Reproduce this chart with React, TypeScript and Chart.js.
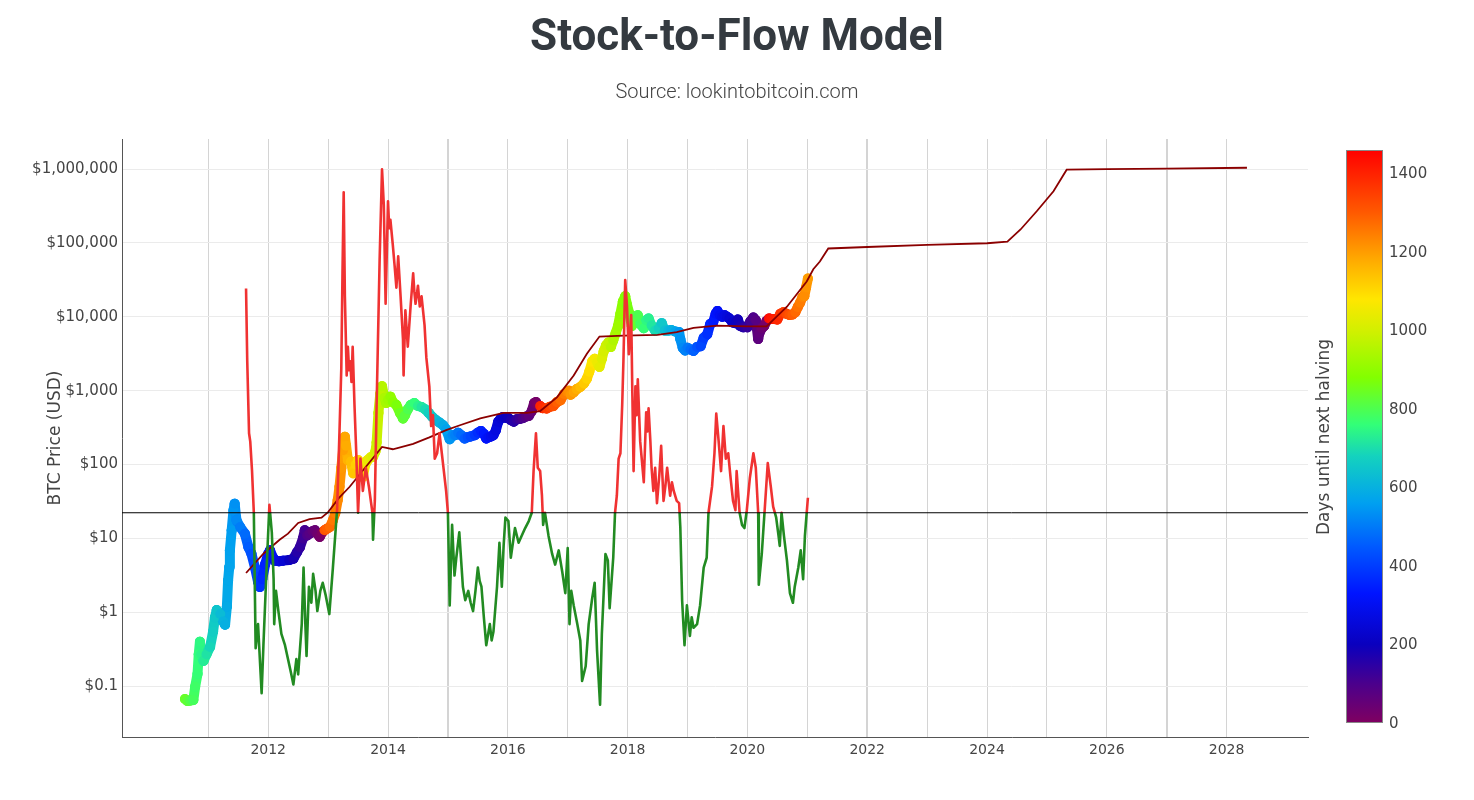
import { useEffect, useRef } from 'react';
import { Chart, registerables } from 'chart.js';

Chart.register(...registerables);

// ---------- DATA (decimal year, value) ----------
const BTC_PRICE: [number, number][] = [
  [2010.61, 0.067], [2010.65, 0.063], [2010.70, 0.064], [2010.75, 0.065], [2010.78, 0.098],
  [2010.82, 0.147], [2010.84, 0.27], [2010.86, 0.40], [2010.88, 0.27], [2010.92, 0.22],
  [2010.97, 0.27], [2011.03, 0.34], [2011.08, 0.55], [2011.11, 0.85], [2011.14, 1.07],
  [2011.20, 0.95], [2011.25, 0.75], [2011.28, 0.68], [2011.31, 1.2], [2011.33, 2.7],
  [2011.35, 4.1], [2011.36, 6.9], [2011.39, 12.9], [2011.42, 24], [2011.44, 29.5],
  [2011.47, 17.6], [2011.53, 14.3], [2011.61, 11.6], [2011.67, 7.6], [2011.72, 6.2],
  [2011.78, 4.0], [2011.83, 2.6], [2011.86, 2.2], [2011.90, 2.8], [2011.95, 4.5],
  [2012.00, 6.2], [2012.03, 6.9], [2012.08, 5.5], [2012.11, 5.0], [2012.18, 4.9],
  [2012.25, 5.0], [2012.35, 5.1], [2012.42, 5.3], [2012.48, 6.5], [2012.53, 7.6],
  [2012.58, 10], [2012.61, 12.9], [2012.65, 11], [2012.69, 11.6], [2012.74, 12.5],
  [2012.78, 12.9], [2012.82, 11.5], [2012.86, 10.5], [2012.90, 12], [2012.94, 12.9],
  [2012.98, 13.5], [2013.03, 14.3], [2013.08, 17.6], [2013.12, 22], [2013.16, 33],
  [2013.19, 50], [2013.22, 90], [2013.25, 156], [2013.28, 237], [2013.30, 180],
  [2013.33, 115], [2013.38, 110], [2013.42, 76], [2013.46, 100], [2013.50, 115],
  [2013.54, 90], [2013.58, 68], [2013.62, 100], [2013.66, 115], [2013.71, 125],
  [2013.75, 127], [2013.79, 150], [2013.81, 200], [2013.84, 500], [2013.87, 900],
  [2013.90, 1150], [2013.94, 800], [2013.97, 680], [2014.00, 750], [2014.04, 830],
  [2014.08, 700], [2014.14, 640], [2014.20, 500], [2014.25, 420], [2014.28, 460],
  [2014.33, 560], [2014.38, 640], [2014.44, 680], [2014.50, 620], [2014.56, 600],
  [2014.62, 560], [2014.68, 500], [2014.74, 440], [2014.80, 400], [2014.86, 370],
  [2014.92, 340], [2014.97, 300], [2015.03, 220], [2015.08, 250], [2015.12, 250],
  [2015.17, 270], [2015.22, 250], [2015.28, 225], [2015.33, 235], [2015.38, 240],
  [2015.45, 250], [2015.50, 270], [2015.55, 285], [2015.60, 260], [2015.64, 225],
  [2015.68, 235], [2015.72, 240], [2015.76, 250], [2015.80, 290], [2015.84, 380],
  [2015.88, 420], [2015.92, 440], [2015.96, 430], [2016.00, 430], [2016.05, 400],
  [2016.10, 380], [2016.15, 410], [2016.20, 415], [2016.25, 425], [2016.30, 445],
  [2016.35, 455], [2016.40, 530], [2016.44, 680], [2016.47, 700], [2016.50, 640],
  [2016.54, 620], [2016.58, 580], [2016.65, 575], [2016.70, 605], [2016.76, 620],
  [2016.82, 700], [2016.88, 740], [2016.94, 900], [2016.99, 970], [2017.02, 1000],
  [2017.05, 880], [2017.10, 950], [2017.15, 1050], [2017.21, 1120], [2017.27, 1250],
  [2017.32, 1450], [2017.36, 1800], [2017.41, 2500], [2017.45, 2700], [2017.49, 2400],
  [2017.53, 2100], [2017.57, 2700], [2017.60, 3400], [2017.64, 4100], [2017.68, 4500],
  [2017.72, 3900], [2017.76, 4800], [2017.80, 6000], [2017.84, 7500], [2017.88, 11000],
  [2017.92, 16000], [2017.96, 19000], [2017.99, 14500], [2018.03, 11000], [2018.07, 7500],
  [2018.12, 10000], [2018.17, 10500], [2018.21, 8000], [2018.27, 7000], [2018.31, 9000],
  [2018.35, 9500], [2018.40, 7600], [2018.46, 6500], [2018.52, 7000], [2018.57, 8200],
  [2018.62, 6500], [2018.68, 6500], [2018.73, 6600], [2018.80, 6300], [2018.86, 6200],
  [2018.88, 5000], [2018.92, 3800], [2018.96, 3500], [2019.00, 3800], [2019.05, 3600],
  [2019.10, 3450], [2019.16, 3900], [2019.22, 4000], [2019.27, 5200], [2019.33, 5800],
  [2019.38, 8000], [2019.43, 8500], [2019.47, 11000], [2019.50, 12000], [2019.54, 10500],
  [2019.58, 10000], [2019.62, 10500], [2019.66, 10000], [2019.70, 9500], [2019.75, 8400],
  [2019.80, 8200], [2019.84, 9200], [2019.88, 7500], [2019.93, 7200], [2019.96, 7300],
  [2020.00, 7200], [2020.05, 8700], [2020.10, 9800], [2020.14, 9000], [2020.18, 5000],
  [2020.20, 6000], [2020.24, 7000], [2020.28, 7500], [2020.32, 8800], [2020.36, 9500],
  [2020.40, 9300], [2020.45, 9300], [2020.50, 9200], [2020.55, 11000], [2020.60, 11500],
  [2020.65, 11000], [2020.70, 10600], [2020.75, 10700], [2020.80, 11500], [2020.84, 13500],
  [2020.88, 15500], [2020.92, 18500], [2020.95, 19000], [2020.98, 25000], [2021.01, 33000],
];

const S2F_MODEL: [number, number][] = [
  [2011.63, 3.4], [2011.92, 6.2], [2012.19, 9.6], [2012.33, 11.6], [2012.50, 16.2],
  [2012.69, 18.2], [2012.89, 19.1], [2013.00, 22.7], [2013.19, 36], [2013.36, 50],
  [2013.58, 83], [2013.90, 173], [2014.08, 161], [2014.42, 190], [2014.69, 233],
  [2014.97, 292], [2015.20, 340], [2015.54, 420], [2015.93, 500], [2016.32, 500],
  [2016.54, 530], [2016.82, 810], [2017.10, 1600], [2017.32, 3160], [2017.53, 5400],
  [2017.93, 5550], [2018.50, 5700], [2018.82, 6200], [2019.10, 7100], [2019.49, 7600],
  [2019.99, 7400], [2020.32, 7400], [2020.66, 13700], [2020.99, 30000], [2021.10, 44000],
  [2021.21, 56000], [2021.35, 84000], [2022.00, 88000], [2023.00, 94000], [2024.00, 99000],
  [2024.34, 104000], [2024.56, 152000], [2024.83, 268000], [2025.11, 500000], [2025.33, 980000],
  [2026.00, 1000000], [2027.00, 1010000], [2028.34, 1040000],
];

const S2F_DEVIATION: [number, number][] = [
  [2011.63, 31.6], [2011.65, 10.3], [2011.68, 3.4], [2011.70, 3.0], [2011.73, 1.9],
  [2011.76, 1.0], [2011.79, 0.124], [2011.83, 0.18], [2011.89, 0.062], [2011.92, 0.13],
  [2011.96, 0.32], [2012.02, 1.13], [2012.06, 0.74], [2012.09, 0.36], [2012.10, 0.18],
  [2012.13, 0.3], [2012.17, 0.22], [2012.22, 0.155], [2012.28, 0.13], [2012.33, 0.105],
  [2012.38, 0.085], [2012.42, 0.071], [2012.47, 0.105], [2012.50, 0.083], [2012.56, 0.18],
  [2012.59, 0.43], [2012.62, 0.18], [2012.64, 0.11], [2012.68, 0.32], [2012.72, 0.25],
  [2012.75, 0.39], [2012.79, 0.30], [2012.82, 0.22], [2012.87, 0.30], [2012.91, 0.34],
  [2012.96, 0.28], [2013.02, 0.21], [2013.08, 0.43], [2013.15, 1.05], [2013.19, 3.5],
  [2013.22, 9.2], [2013.24, 40], [2013.26, 139], [2013.28, 28], [2013.31, 8.3],
  [2013.33, 12.9], [2013.35, 9.0], [2013.37, 10.3], [2013.39, 7.5], [2013.41, 12.9],
  [2013.44, 5.3], [2013.47, 2.5], [2013.50, 1.0], [2013.54, 2.3], [2013.58, 1.4],
  [2013.63, 2.0], [2013.68, 1.5], [2013.74, 1.0], [2013.75, 0.66], [2013.78, 1.2],
  [2013.81, 5.3], [2013.86, 49], [2013.90, 198], [2013.93, 114], [2013.96, 25],
  [2014.00, 121], [2014.02, 80], [2014.04, 91], [2014.08, 62], [2014.11, 45],
  [2014.14, 32], [2014.17, 52], [2014.21, 28], [2014.25, 14.5], [2014.26, 8.3],
  [2014.29, 22.6], [2014.33, 12.9], [2014.38, 25], [2014.42, 40], [2014.44, 30],
  [2014.46, 25], [2014.50, 33], [2014.53, 24], [2014.56, 28], [2014.61, 18],
  [2014.64, 10.9], [2014.69, 7.0], [2014.72, 3.8], [2014.75, 4.5], [2014.78, 2.3],
  [2014.82, 2.5], [2014.86, 3.4], [2014.92, 2.1], [2014.97, 1.4], [2015.00, 1.0],
  [2015.03, 0.24], [2015.07, 0.83], [2015.11, 0.38], [2015.14, 0.5], [2015.17, 0.63],
  [2015.19, 0.74], [2015.25, 0.32], [2015.29, 0.26], [2015.34, 0.30], [2015.38, 0.25],
  [2015.42, 0.22], [2015.46, 0.3], [2015.50, 0.43], [2015.53, 0.35], [2015.56, 0.32],
  [2015.60, 0.2], [2015.64, 0.13], [2015.70, 0.18], [2015.73, 0.14], [2015.76, 0.16],
  [2015.82, 0.32], [2015.86, 0.63], [2015.90, 0.32], [2015.93, 0.6], [2015.96, 0.93],
  [2016.01, 0.88], [2016.05, 0.5], [2016.09, 0.65], [2016.12, 0.79], [2016.18, 0.63],
  [2016.23, 0.7], [2016.29, 0.79], [2016.35, 0.88], [2016.40, 1.0], [2016.43, 1.9],
  [2016.47, 3.4], [2016.50, 2.0], [2016.54, 1.9], [2016.57, 1.3], [2016.59, 0.83],
  [2016.62, 1.0], [2016.68, 0.7], [2016.74, 0.53], [2016.79, 0.45], [2016.85, 0.56],
  [2016.91, 0.4], [2016.96, 0.29], [2017.00, 0.58], [2017.03, 0.18], [2017.06, 0.3],
  [2017.10, 0.24], [2017.16, 0.18], [2017.21, 0.14], [2017.24, 0.075], [2017.30, 0.094],
  [2017.35, 0.18], [2017.41, 0.27], [2017.45, 0.34], [2017.49, 0.12], [2017.54, 0.052],
  [2017.57, 0.155], [2017.63, 0.53], [2017.67, 0.48], [2017.70, 0.23], [2017.76, 0.5],
  [2017.79, 1.0], [2017.82, 1.3], [2017.85, 2.3], [2017.88, 2.5], [2017.91, 5.3],
  [2017.93, 10.3], [2017.96, 36], [2017.99, 24], [2018.02, 11.5], [2018.04, 16],
  [2018.06, 21], [2018.08, 6], [2018.10, 1.9], [2018.13, 7.0], [2018.15, 4.5],
  [2018.17, 7.8], [2018.21, 3.0], [2018.24, 2.2], [2018.27, 1.6], [2018.31, 4.7],
  [2018.33, 3.5], [2018.35, 5.0], [2018.38, 3.0], [2018.40, 2.0], [2018.43, 1.4],
  [2018.46, 2.0], [2018.49, 1.16], [2018.53, 1.8], [2018.56, 2.8], [2018.58, 1.8],
  [2018.60, 1.2], [2018.63, 1.5], [2018.66, 2.0], [2018.71, 1.3], [2018.74, 1.6],
  [2018.77, 1.4], [2018.82, 1.2], [2018.86, 1.16], [2018.88, 0.8], [2018.91, 0.26],
  [2018.95, 0.13], [2018.99, 0.24], [2019.04, 0.15], [2019.07, 0.2], [2019.10, 0.17],
  [2019.16, 0.18], [2019.21, 0.24], [2019.27, 0.43], [2019.32, 0.5], [2019.35, 1.0],
  [2019.41, 1.5], [2019.45, 2.5], [2019.48, 4.6], [2019.52, 3.0], [2019.56, 1.9],
  [2019.60, 3.8], [2019.64, 2.3], [2019.68, 2.5], [2019.72, 1.7], [2019.76, 1.2],
  [2019.80, 1.04], [2019.82, 1.9], [2019.87, 1.0], [2019.91, 0.83], [2019.95, 0.79],
  [2019.99, 1.04], [2020.04, 1.7], [2020.10, 2.5], [2020.14, 2.0], [2020.18, 1.0],
  [2020.19, 0.33], [2020.24, 0.53], [2020.28, 0.93], [2020.34, 2.15], [2020.39, 1.5],
  [2020.43, 1.1], [2020.48, 0.93], [2020.52, 0.7], [2020.54, 0.6], [2020.57, 1.0],
  [2020.61, 0.7], [2020.66, 0.48], [2020.71, 0.29], [2020.76, 0.25], [2020.79, 0.32],
  [2020.85, 0.43], [2020.89, 0.56], [2020.93, 0.36], [2020.96, 0.7], [2020.99, 1.0],
  [2021.01, 1.26],
];

const HALVING_DATES = [2012.909, 2016.521, 2020.359, 2024.30];
const DEVIATION_THRESHOLD = 1;
const THRESHOLD_SPAN = [2009.559, 2029.359];

const Y_TICKS = [0.1, 1, 10, 100, 1000, 10000, 100000, 1000000];
const X_GRID_YEARS = [2011, 2012, 2013, 2014, 2015, 2016, 2017, 2018, 2019, 2020,
  2021, 2022, 2023, 2024, 2025, 2026, 2027, 2028];
const X_LABEL_YEARS = [2012, 2014, 2016, 2018, 2020, 2022, 2024, 2026, 2028];
const X_BOLD_GRID_YEARS = [2015, 2022, 2027];
const COLORBAR_TICKS = [0, 200, 400, 600, 800, 1000, 1200, 1400];
const COLORBAR_MAX = 1460;

// colour scale: [days, rgb]
const COLOR_STOPS: [number, [number, number, number]][] = [
  [0, [128, 0, 96]], [100, [75, 0, 140]], [200, [10, 0, 190]], [330, [0, 20, 255]],
  [450, [0, 90, 255]], [560, [0, 160, 240]], [680, [20, 210, 190]], [760, [50, 255, 120]],
  [880, [130, 255, 0]], [1000, [210, 240, 0]], [1080, [255, 230, 0]], [1180, [255, 170, 0]],
  [1300, [255, 90, 0]], [1460, [255, 0, 0]],
];

const TITLE = 'Stock-to-Flow Model';
const SUBTITLE = 'Source: lookintobitcoin.com';
const Y_TITLE = 'BTC Price (USD)';
const COLORBAR_TITLE = 'Days until next halving';

const RED = 'rgb(240,50,50)';
const GREEN = 'rgb(34,139,34)';
const FONT = '"DejaVu Sans", Verdana, sans-serif';

function daysUntilHalving(t: number): number {
  for (const h of HALVING_DATES) {
    if (h > t) return (h - t) * 365.25;
  }
  return 0;
}

function colorAt(v: number): string {
  const x = Math.max(0, Math.min(COLORBAR_MAX, v));
  for (let i = 0; i < COLOR_STOPS.length - 1; i++) {
    const [a, ca] = COLOR_STOPS[i];
    const [b, cb] = COLOR_STOPS[i + 1];
    if (x >= a && x <= b) {
      const f = (x - a) / (b - a);
      const c = ca.map((c0, k) => Math.round(c0 + (cb[k] - c0) * f));
      return `rgb(${c[0]},${c[1]},${c[2]})`;
    }
  }
  const c = COLOR_STOPS[COLOR_STOPS.length - 1][1];
  return `rgb(${c[0]},${c[1]},${c[2]})`;
}

const colorbarPlugin = {
  id: 'colorbar',
  afterDraw(chart: any) {
    const ctx = chart.ctx as CanvasRenderingContext2D;
    const x0 = 1346, x1 = 1383, yTop = 150, yBot = 723;
    ctx.save();
    const g = ctx.createLinearGradient(0, yBot, 0, yTop);
    COLOR_STOPS.forEach(([v, c]) => g.addColorStop(v / COLORBAR_MAX, `rgb(${c[0]},${c[1]},${c[2]})`));
    ctx.fillStyle = g;
    ctx.fillRect(x0, yTop, x1 - x0, yBot - yTop);
    ctx.strokeStyle = '#888';
    ctx.lineWidth = 1;
    ctx.strokeRect(x0 + 0.5, yTop + 0.5, x1 - x0 - 1, yBot - yTop - 1);
    ctx.fillStyle = '#444';
    ctx.font = `15px ${FONT}`;
    ctx.textAlign = 'left';
    ctx.textBaseline = 'middle';
    COLORBAR_TICKS.forEach((v) => {
      const y = yBot - (v / COLORBAR_MAX) * (yBot - yTop);
      ctx.fillText(String(v), 1389, y + 1);
    });
    ctx.translate(1325, 437);
    ctx.rotate(-Math.PI / 2);
    ctx.textAlign = 'center';
    ctx.font = `17px ${FONT}`;
    ctx.fillText(COLORBAR_TITLE, 0, 0);
    ctx.restore();
  },
};

export default function App() {
  const canvasRef = useRef<HTMLCanvasElement | null>(null);

  useEffect(() => {
    document.body.style.margin = '0';
    const canvas = canvasRef.current;
    if (!canvas) return;

    const toXY = (arr: [number, number][]) => arr.map(([x, y]) => ({ x, y }));

    const chart = new Chart(canvas, {
      type: 'line',
      data: {
        datasets: [
          {
            label: 'threshold',
            data: THRESHOLD_SPAN.map((x) => ({ x, y: DEVIATION_THRESHOLD })),
            yAxisID: 'y2',
            borderColor: '#000',
            borderWidth: 1,
            pointRadius: 0,
            order: 0,
          },
          {
            label: 'S2F deviation',
            data: toXY(S2F_DEVIATION),
            yAxisID: 'y2',
            borderWidth: 2.6,
            pointRadius: 0,
            borderJoinStyle: 'round',
            borderColor: (c: any) => {
              const chartI = c.chart;
              const area = chartI.chartArea;
              if (!area || !chartI.scales.y2) return RED;
              const py = chartI.scales.y2.getPixelForValue(DEVIATION_THRESHOLD);
              const stop = Math.max(0, Math.min(1, (py - area.top) / (area.bottom - area.top)));
              const gr = chartI.ctx.createLinearGradient(0, area.top, 0, area.bottom);
              gr.addColorStop(0, RED);
              gr.addColorStop(stop, RED);
              gr.addColorStop(stop, GREEN);
              gr.addColorStop(1, GREEN);
              return gr;
            },
            order: 1,
          },
          {
            label: 'S2F model',
            data: toXY(S2F_MODEL),
            yAxisID: 'y',
            borderColor: '#8b0000',
            borderWidth: 1.8,
            pointRadius: 0,
            order: 2,
          },
          {
            label: 'BTC price',
            data: toXY(BTC_PRICE),
            yAxisID: 'y',
            borderWidth: 10,
            borderCapStyle: 'round',
            borderJoinStyle: 'round',
            borderColor: '#00f',
            segment: {
              borderColor: (c: any) => colorAt(daysUntilHalving((c.p0.parsed.x + c.p1.parsed.x) / 2)),
            },
            pointRadius: 5,
            pointBorderWidth: 0,
            pointBackgroundColor: (c: any) => (c.parsed ? colorAt(daysUntilHalving(c.parsed.x)) : '#00f'),
            order: 3,
          },
        ] as any,
      },
      options: {
        responsive: false,
        animation: false,
        events: [],
        layout: { padding: { left: 0, top: 139, right: 166, bottom: 0 } },
        plugins: {
          legend: { display: false },
          tooltip: { enabled: false },
          title: { display: false },
        },
        scales: {
          x: {
            type: 'linear',
            min: THRESHOLD_SPAN[0],
            max: THRESHOLD_SPAN[1],
            afterBuildTicks: (s: any) => {
              s.ticks = X_GRID_YEARS.map((v) => ({ value: v }));
            },
            afterFit: (s: any) => {
              s.height = 63;
            },
            ticks: {
              autoSkip: false,
              maxRotation: 0,
              padding: 5,
              color: '#444',
              font: { family: FONT, size: 14 },
              callback: (v: any) => (X_LABEL_YEARS.includes(Number(v)) ? String(v) : ''),
            },
            grid: {
              color: '#d4d4d4',
              lineWidth: (c: any) => (c.tick && X_BOLD_GRID_YEARS.includes(c.tick.value) ? 2 : 1),
              drawTicks: false,
            },
            border: { display: true, color: '#555', width: 1 },
          },
          y: {
            type: 'logarithmic',
            position: 'left',
            min: 0.0205,
            max: 2550000,
            afterBuildTicks: (s: any) => {
              s.ticks = Y_TICKS.map((v) => ({ value: v }));
            },
            afterFit: (s: any) => {
              s.width = 122;
            },
            ticks: {
              autoSkip: false,
              padding: 4,
              color: '#444',
              font: { family: FONT, size: 15 },
              callback: (v: any) => '$' + Number(v).toLocaleString('en-US'),
            },
            grid: { color: '#ebebeb', drawTicks: false },
            border: { display: true, color: '#555', width: 1 },
            title: {
              display: true,
              text: Y_TITLE,
              color: '#444',
              font: { family: FONT, size: 17 },
              padding: { top: 45, bottom: 0 },
            },
          },
          y2: {
            type: 'logarithmic',
            position: 'right',
            display: false,
            min: Math.pow(10, -1.5),
            max: Math.pow(10, 2.5),
          },
        },
      } as any,
      plugins: [colorbarPlugin],
    });

    return () => chart.destroy();
  }, []);

  return (
    <div style={{ position: 'relative', width: 1474, height: 800, background: '#fff' }}>
      <canvas ref={canvasRef} width={1474} height={800} style={{ display: 'block', width: 1474, height: 800 }} />
      <div
        style={{
          position: 'absolute', left: 0, top: 0, width: 1474, textAlign: 'center',
          fontFamily: 'Roboto, sans-serif', fontWeight: 700, fontSize: 44, lineHeight: '70px',
          color: '#343a40',
        }}
      >
        {TITLE}
      </div>
      <div
        style={{
          position: 'absolute', left: 0, top: 79, width: 1474, textAlign: 'center',
          fontFamily: 'Roboto, sans-serif', fontWeight: 300, fontSize: 20, lineHeight: '24px',
          color: '#444',
        }}
      >
        {SUBTITLE}
      </div>
    </div>
  );
}
